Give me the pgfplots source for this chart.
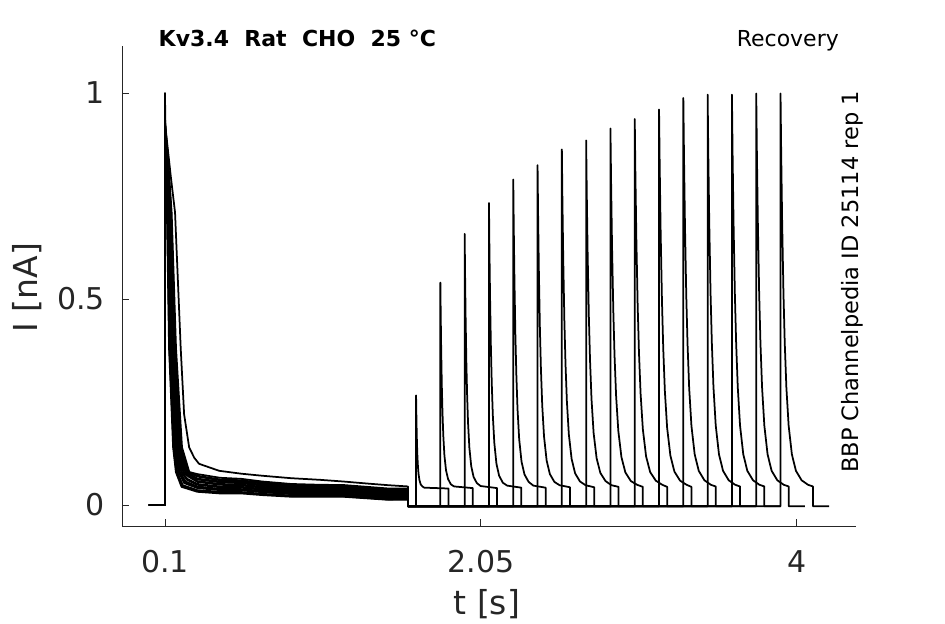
\documentclass[border=0pt]{standalone}
\usepackage{fontspec}
\setmainfont{DejaVu Sans}
\usepackage{pgfplots}
\pgfplotsset{compat=1.18}
\definecolor{axgray}{RGB}{38,38,38}
\begin{document}
\begin{tikzpicture}[x=1bp,y=1bp]
\useasboundingbox (0,0) rectangle (945,624);
\begin{axis}[
  at={(122bp,98bp)}, anchor=south west,
  width=734bp, height=479.5bp, scale only axis,
  xmin=-0.1655, xmax=4.366, ymin=-0.051, ymax=1.113,
  axis x line*=bottom, axis y line*=left,
  axis line style={axgray, line width=0.8bp, -},
  xtick={0.1,2.05,4}, xticklabels={0.1,2.05,4},
  ytick={0,0.5,1}, yticklabels={0,0.5,1},
  minor tick num=0,
  tick style={axgray, line width=0.8bp},
  tick align=inside, major tick length=7bp,
  ticklabel style={font=\fontsize{30bp}{36bp}\selectfont, text=axgray},
  xticklabel style={inner sep=0pt, yshift=-24bp},
  yticklabel style={inner sep=0pt, xshift=-17bp},
  xlabel={t [s]}, ylabel={I [nA]},
  xlabel style={at={(axis description cs:0.497,-0.1856)}, anchor=base, inner sep=0pt, font=\fontsize{33bp}{40bp}\selectfont, text=axgray},
  ylabel style={at={(axis description cs:-0.1158,0.497)}, anchor=base, inner sep=0pt, rotate=0, font=\fontsize{33bp}{40bp}\selectfont, text=axgray},
  trace/.style={black, line width=1.75bp, line join=round, mark=none},
]
% sweep 1
\addplot[trace] coordinates {(0,0) (0.1,0) (0.1,1.0) (0.102,0.92) (0.135,0.80) (0.162,0.71) (0.197,0.38) (0.218,0.22) (0.249,0.14) (0.28,0.115) (0.31,0.10) (0.434,0.083) (0.57,0.076) (0.7,0.071) (0.88,0.065) (1.06,0.061) (1.2,0.057) (1.35,0.052) (1.48,0.048) (1.6,0.045) (1.6,-0.003) (1.65,-0.003)
(1.65,0.266) (1.6512,0.233) (1.653,0.193) (1.6554,0.152) (1.6578,0.123) (1.6608,0.098) (1.665,0.076) (1.671,0.060) (1.6785,0.050) (1.689,0.045) (1.701,0.042) (1.85,0.040) (1.85,-0.003) (1.95,-0.003)};
% sweep 2
\addplot[trace] coordinates {(0,0) (0.1,0) (0.1,0.93) (0.1205,0.831) (0.141,0.71) (0.168,0.38) (0.205,0.14) (0.25,0.08) (0.3,0.075) (0.44,0.066) (0.57,0.0635) (0.7,0.057) (0.88,0.051) (1.06,0.049) (1.2,0.0485) (1.35,0.044) (1.48,0.040) (1.6,0.040) (1.6,-0.003) (1.8,-0.003)
(1.80,0.540) (1.802,0.467) (1.805,0.378) (1.809,0.288) (1.813,0.225) (1.818,0.169) (1.825,0.120) (1.835,0.084) (1.8475,0.063) (1.865,0.050) (1.885,0.045) (2.0,0.041) (2.0,-0.003) (2.1,-0.003)};
% sweep 3
\addplot[trace] coordinates {(0,0) (0.1,0) (0.1,0.90) (0.1184,0.815) (0.1367,0.71) (0.1616,0.38) (0.1968,0.14) (0.2376,0.08) (0.3,0.069) (0.44,0.060) (0.57,0.058) (0.7,0.052) (0.88,0.0465) (1.06,0.045) (1.2,0.0445) (1.35,0.040) (1.48,0.036) (1.6,0.036) (1.6,-0.003) (1.95,-0.003)
(1.95,0.658) (1.9523,0.567) (1.9558,0.457) (1.9604,0.347) (1.9651,0.268) (1.9709,0.199) (1.979,0.139) (1.9906,0.094) (2.0051,0.068) (2.0254,0.053) (2.0486,0.046) (2.15,0.041) (2.15,-0.003) (2.25,-0.003)};
% sweep 4
\addplot[trace] coordinates {(0,0) (0.1,0) (0.1,0.86) (0.1089,0.793) (0.1178,0.71) (0.1336,0.38) (0.161,0.14) (0.1836,0.08) (0.219,0.053) (0.3,0.041) (0.44,0.036) (0.57,0.0355) (0.7,0.031) (0.88,0.0265) (1.06,0.026) (1.2,0.026) (1.35,0.022) (1.48,0.018) (1.6,0.018) (1.6,-0.003) (2.1,-0.003)
(2.10,0.733) (2.1026,0.631) (2.1066,0.508) (2.1119,0.384) (2.1172,0.296) (2.1238,0.218) (2.133,0.151) (2.1462,0.100) (2.1627,0.071) (2.1858,0.054) (2.2122,0.047) (2.30,0.042) (2.30,-0.003) (2.40,-0.003)};
% sweep 5
\addplot[trace] coordinates {(0,0) (0.1,0) (0.1,0.92) (0.1147,0.826) (0.1294,0.71) (0.1508,0.38) (0.183,0.14) (0.2168,0.08) (0.252,0.070) (0.3,0.058) (0.44,0.051) (0.57,0.0495) (0.7,0.044) (0.88,0.0385) (1.06,0.037) (1.2,0.037) (1.35,0.033) (1.48,0.029) (1.6,0.029) (1.6,-0.003) (2.25,-0.003)
(2.25,0.790) (2.2529,0.680) (2.2573,0.546) (2.2631,0.412) (2.269,0.317) (2.2763,0.233) (2.2865,0.160) (2.3011,0.105) (2.3194,0.074) (2.3449,0.056) (2.3741,0.047) (2.45,0.042) (2.45,-0.003) (2.55,-0.003)};
% sweep 6
\addplot[trace] coordinates {(0,0) (0.1,0) (0.1,0.88) (0.106,0.80) (0.112,0.71) (0.125,0.38) (0.15,0.14) (0.167,0.08) (0.202,0.044) (0.3,0.032) (0.44,0.028) (0.57,0.028) (0.7,0.024) (0.88,0.020) (1.06,0.020) (1.2,0.020) (1.35,0.016) (1.48,0.0125) (1.6,0.013) (1.6,-0.003) (2.4,-0.003)
(2.40,0.825) (2.4032,0.710) (2.408,0.570) (2.4144,0.429) (2.4208,0.330) (2.4288,0.242) (2.44,0.166) (2.456,0.108) (2.476,0.075) (2.504,0.056) (2.536,0.048) (2.60,0.043) (2.60,-0.003) (2.70,-0.003)};
% sweep 7
\addplot[trace] coordinates {(0,0) (0.1,0) (0.1,0.94) (0.1126,0.837) (0.1251,0.71) (0.1444,0.38) (0.1748,0.14) (0.2044,0.08) (0.239,0.063) (0.3,0.051) (0.44,0.045) (0.57,0.044) (0.7,0.039) (0.88,0.034) (1.06,0.033) (1.2,0.033) (1.35,0.029) (1.48,0.025) (1.6,0.025) (1.6,-0.003) (2.55,-0.003)
(2.55,0.863) (2.5534,0.742) (2.5586,0.596) (2.5655,0.448) (2.5724,0.344) (2.581,0.252) (2.593,0.172) (2.6102,0.112) (2.6317,0.077) (2.6618,0.057) (2.6962,0.048) (2.75,0.043) (2.75,-0.003) (2.85,-0.003)};
% sweep 8
\addplot[trace] coordinates {(0,0) (0.1,0) (0.1,0.91) (0.1169,0.82) (0.1338,0.71) (0.1573,0.38) (0.1913,0.14) (0.2293,0.08) (0.3,0.064) (0.44,0.057) (0.57,0.055) (0.7,0.049) (0.88,0.0435) (1.06,0.042) (1.2,0.0415) (1.35,0.037) (1.48,0.033) (1.6,0.033) (1.6,-0.003) (2.7,-0.003)
(2.70,0.885) (2.7037,0.761) (2.7092,0.610) (2.7166,0.459) (2.7239,0.352) (2.7331,0.257) (2.746,0.175) (2.7644,0.114) (2.7874,0.078) (2.8196,0.058) (2.8564,0.048) (2.90,0.044) (2.90,-0.003) (3.00,-0.003)};
% sweep 9
\addplot[trace] coordinates {(0,0) (0.1,0) (0.1,0.87) (0.1075,0.798) (0.1149,0.71) (0.1293,0.38) (0.1555,0.14) (0.1753,0.08) (0.210,0.048) (0.3,0.036) (0.44,0.032) (0.57,0.0315) (0.7,0.027) (0.88,0.023) (1.06,0.023) (1.2,0.023) (1.35,0.019) (1.48,0.0155) (1.6,0.016) (1.6,-0.003) (2.85,-0.003)
(2.85,0.914) (2.8539,0.786) (2.8597,0.630) (2.8675,0.474) (2.8752,0.363) (2.8849,0.265) (2.8985,0.180) (2.9179,0.116) (2.9422,0.079) (2.9761,0.058) (3.0149,0.049) (3.05,0.044) (3.05,-0.003) (3.15,-0.003)};
% sweep 10
\addplot[trace] coordinates {(0,0) (0.1,0) (0.1,0.89) (0.1104,0.809) (0.1207,0.71) (0.1379,0.38) (0.1665,0.14) (0.1919,0.08) (0.227,0.057) (0.3,0.045) (0.44,0.039) (0.57,0.0385) (0.7,0.034) (0.88,0.0295) (1.06,0.029) (1.2,0.0285) (1.35,0.024) (1.48,0.0205) (1.6,0.021) (1.6,-0.003) (3.0,-0.003)
(3.00,0.937) (3.004,0.805) (3.01,0.645) (3.018,0.485) (3.026,0.371) (3.036,0.271) (3.05,0.184) (3.07,0.118) (3.095,0.080) (3.13,0.059) (3.17,0.049) (3.20,0.044) (3.20,-0.003) (3.30,-0.003)};
% sweep 11
\addplot[trace] coordinates {(0,0) (0.1,0) (0.1,0.93) (0.1191,0.831) (0.1381,0.71) (0.1637,0.38) (0.1995,0.14) (0.2417,0.08) (0.3,0.071) (0.44,0.062) (0.57,0.060) (0.7,0.054) (0.88,0.048) (1.06,0.046) (1.2,0.0455) (1.35,0.041) (1.48,0.037) (1.6,0.037) (1.6,-0.003) (3.15,-0.003)
(3.15,0.960) (3.154,0.825) (3.16,0.661) (3.168,0.496) (3.176,0.379) (3.186,0.276) (3.20,0.187) (3.22,0.120) (3.245,0.081) (3.28,0.059) (3.32,0.049) (3.35,0.044) (3.35,-0.003) (3.45,-0.003)};
% sweep 12
\addplot[trace] coordinates {(0,0) (0.1,0) (0.1,0.85) (0.114,0.787) (0.128,0.71) (0.1487,0.38) (0.1803,0.14) (0.2127,0.08) (0.248,0.068) (0.3,0.056) (0.44,0.049) (0.57,0.0475) (0.7,0.042) (0.88,0.037) (1.06,0.036) (1.2,0.0355) (1.35,0.031) (1.48,0.0275) (1.6,0.028) (1.6,-0.003) (3.3,-0.003)
(3.30,0.988) (3.304,0.849) (3.31,0.680) (3.318,0.510) (3.326,0.390) (3.336,0.284) (3.35,0.192) (3.37,0.123) (3.395,0.083) (3.43,0.060) (3.47,0.049) (3.50,0.045) (3.50,-0.003) (3.60,-0.003)};
% sweep 13
\addplot[trace] coordinates {(0,0) (0.1,0) (0.1,0.90) (0.1068,0.815) (0.1135,0.71) (0.1272,0.38) (0.1528,0.14) (0.1712,0.08) (0.206,0.046) (0.3,0.034) (0.44,0.030) (0.57,0.030) (0.7,0.026) (0.88,0.0215) (1.06,0.021) (1.2,0.021) (1.35,0.017) (1.48,0.0135) (1.6,0.014) (1.6,-0.003) (3.45,-0.003)
(3.45,0.996) (3.454,0.855) (3.46,0.685) (3.468,0.514) (3.476,0.393) (3.486,0.286) (3.50,0.193) (3.52,0.123) (3.545,0.083) (3.58,0.060) (3.62,0.049) (3.65,0.045) (3.65,-0.003) (3.75,-0.003)};
% sweep 14
\addplot[trace] coordinates {(0,0) (0.1,0) (0.1,0.92) (0.1118,0.826) (0.1236,0.71) (0.1422,0.38) (0.172,0.14) (0.2002,0.08) (0.235,0.061) (0.3,0.049) (0.44,0.043) (0.57,0.042) (0.7,0.037) (0.88,0.0325) (1.06,0.032) (1.2,0.0315) (1.35,0.027) (1.48,0.0235) (1.6,0.024) (1.6,-0.003) (3.6,-0.003)
(3.60,0.996) (3.604,0.855) (3.61,0.685) (3.618,0.514) (3.626,0.393) (3.636,0.286) (3.65,0.193) (3.67,0.123) (3.695,0.083) (3.73,0.060) (3.77,0.049) (3.80,0.045) (3.80,-0.003) (3.90,-0.003)};
% sweep 15
\addplot[trace] coordinates {(0,0) (0.1,0) (0.1,0.88) (0.1162,0.80) (0.1323,0.71) (0.1551,0.38) (0.1885,0.14) (0.2251,0.08) (0.3,0.062) (0.44,0.055) (0.57,0.053) (0.7,0.047) (0.88,0.0415) (1.06,0.040) (1.2,0.040) (1.35,0.036) (1.48,0.032) (1.6,0.032) (1.6,-0.003) (3.75,-0.003)
(3.75,0.999) (3.754,0.858) (3.76,0.687) (3.768,0.516) (3.776,0.394) (3.786,0.286) (3.80,0.193) (3.82,0.123) (3.845,0.083) (3.88,0.060) (3.92,0.049) (3.95,0.045) (3.95,-0.003) (4.05,-0.003)};
% sweep 16
\addplot[trace] coordinates {(0,0) (0.1,0) (0.1,0.91) (0.1097,0.82) (0.1193,0.71) (0.1358,0.38) (0.1638,0.14) (0.1878,0.08) (0.223,0.055) (0.3,0.043) (0.44,0.038) (0.57,0.037) (0.7,0.032) (0.88,0.0275) (1.06,0.027) (1.2,0.027) (1.35,0.023) (1.48,0.0195) (1.6,0.020) (1.6,-0.003) (3.9,-0.003)
(3.90,0.999) (3.904,0.858) (3.91,0.687) (3.918,0.516) (3.926,0.394) (3.936,0.286) (3.95,0.193) (3.97,0.123) (3.995,0.083) (4.03,0.060) (4.07,0.049) (4.10,0.045) (4.10,-0.003) (4.20,-0.003)};
\end{axis}
\node[anchor=base west, inner sep=0pt, font=\bfseries\fontsize{22bp}{26bp}\selectfont] at (158.5,577.3) {Kv3.4~~Rat~~CHO~~25 °C};
\node[anchor=base east, inner sep=0pt, font=\fontsize{22bp}{26bp}\selectfont] at (839,577.5) {Recovery};
\node[anchor=base west, rotate=90, inner sep=0pt, font=\fontsize{22.5bp}{26bp}\selectfont] at (858.3,151) {BBP Channelpedia ID 25114 rep 1};
\end{tikzpicture}
\end{document}
